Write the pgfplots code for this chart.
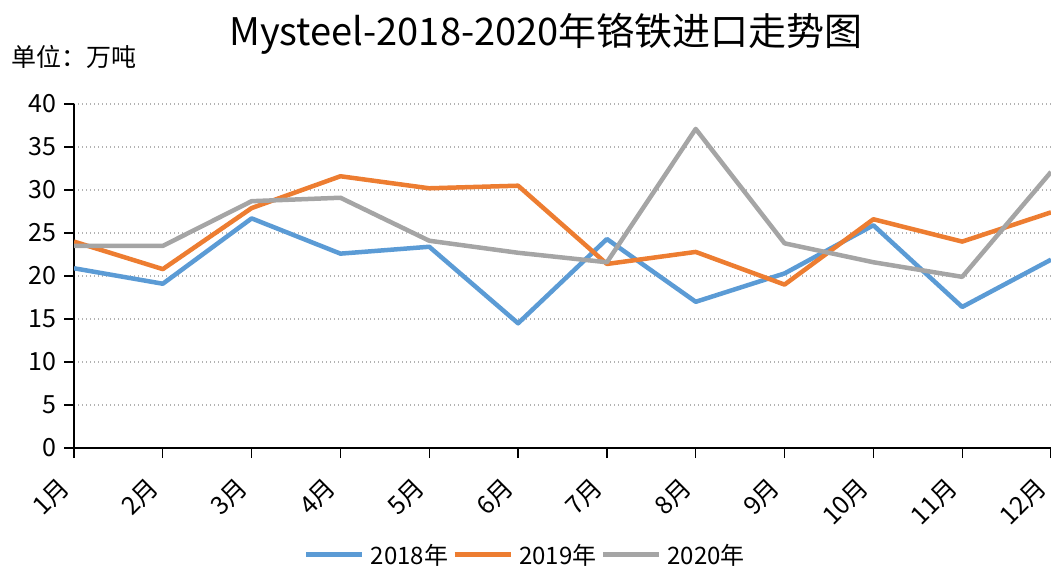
\documentclass[border=0pt]{standalone}
\usepackage{fontspec}
\setmainfont{Noto Sans CJK SC}
\usepackage{pgfplots}
\pgfplotsset{compat=1.18}
\definecolor{c18}{HTML}{5B9BD5}
\definecolor{c19}{HTML}{ED7D31}
\definecolor{c20}{HTML}{A5A5A5}
\begin{document}
\begin{tikzpicture}[x=1pt,y=1pt]
\useasboundingbox (0,0) rectangle (1051,568);
\node[font=\fontsize{38}{42}\selectfont] at (546,534) {Mysteel-2018-2020年铬铁进口走势图};
\node[anchor=west,font=\fontsize{25}{30}\selectfont] at (8,511) {单位：万吨};
\begin{axis}[
  at={(74pt,120pt)}, anchor=south west,
  scale only axis, width=977pt, height=344pt,
  xmin=0, xmax=11, ymin=0, ymax=40,
  ytick={0,5,...,40},
  xtick={0,...,11},
  xticklabels={1月,2月,3月,4月,5月,6月,7月,8月,9月,10月,11月,12月},
  x tick label style={xshift=-9pt, yshift=-25pt, rotate=45, anchor=east, inner sep=0pt},
  y tick label style={xshift=-4pt},
  axis x line=bottom, axis y line=left,
  axis line style={-, black, line width=1.3pt},
  tick style={black, line width=1.3pt},
  tick align=outside, major tick length=10pt,
  ymajorgrids, grid style={dash pattern=on 1.4pt off 2.6pt, black!30, line width=1.4pt},
  tick label style={font=\fontsize{25}{30}\selectfont},
  /pgf/number format/assume math mode=true,
  legend style={at={(0.462,-0.311)}, anchor=center, draw=none, fill=none,
     legend columns=3, font=\fontsize{24}{28}\selectfont,
     /tikz/every odd column/.append style={column sep=4pt},
     /tikz/every even column/.append style={column sep=2pt}},
  legend image code/.code={\draw[#1, line width=5pt] (0pt,0pt) -- (56pt,0pt);},
  every axis plot/.append style={line width=4.5pt, line join=round},
]
\addplot[c18] coordinates {(0,20.9)(1,19.1)(2,26.7)(3,22.6)(4,23.4)(5,14.5)(6,24.3)(7,17.0)(8,20.3)(9,25.9)(10,16.4)(11,21.9)};
\addplot[c19] coordinates {(0,24.0)(1,20.8)(2,27.9)(3,31.6)(4,30.2)(5,30.5)(6,21.4)(7,22.8)(8,19.0)(9,26.6)(10,24.0)(11,27.4)};
\addplot[c20] coordinates {(0,23.5)(1,23.5)(2,28.7)(3,29.1)(4,24.1)(5,22.7)(6,21.6)(7,37.1)(8,23.8)(9,21.6)(10,19.9)(11,32.1)};
\legend{2018年,2019年,2020年}
\end{axis}
\end{tikzpicture}
\end{document}
